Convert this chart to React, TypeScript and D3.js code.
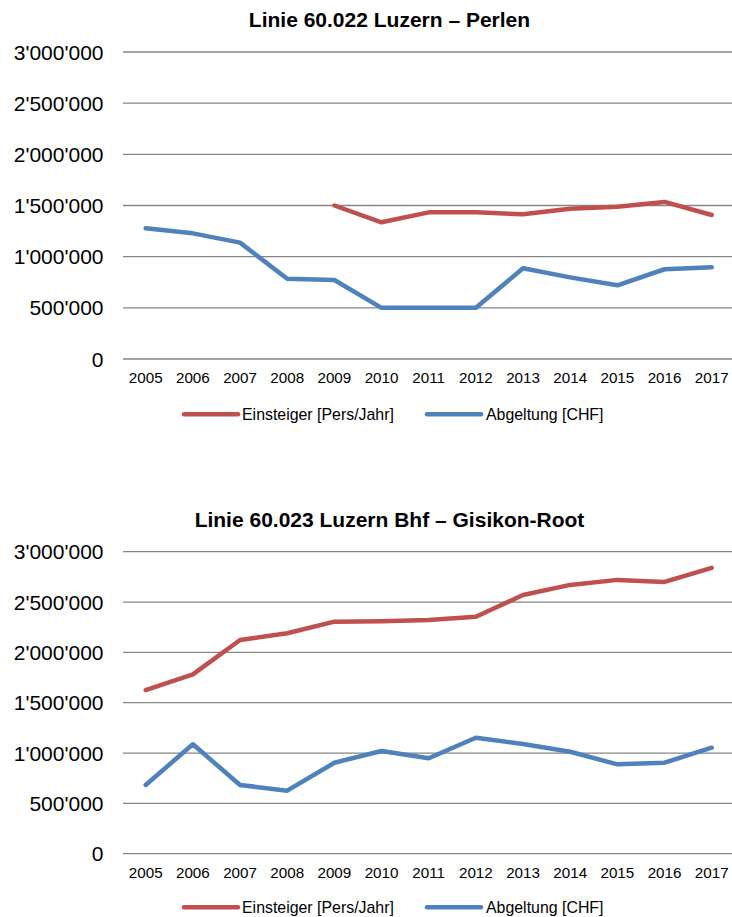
import React from "react";
import * as d3 from "d3";

const years = [2005, 2006, 2007, 2008, 2009, 2010, 2011, 2012, 2013, 2014, 2015, 2016, 2017];
const yTicks = [0, 500000, 1000000, 1500000, 2000000, 2500000, 3000000];

const titleTop = "Linie 60.022 Luzern – Perlen";
const einsteigerTop: (number | null)[] = [null, null, null, null, 1500000, 1336000, 1433000, 1433000, 1414000, 1469000, 1488000, 1535000, 1407000];
const abgeltungTop: (number | null)[] = [1277000, 1228000, 1137000, 785000, 772000, 500000, 500000, 500000, 886000, 798000, 720000, 877000, 896000];

const titleBottom = "Linie 60.023 Luzern Bhf – Gisikon-Root";
const einsteigerBottom: (number | null)[] = [1626000, 1782000, 2123000, 2190000, 2305000, 2310000, 2322000, 2354000, 2570000, 2670000, 2720000, 2700000, 2840000];
const abgeltungBottom: (number | null)[] = [683000, 1087000, 683000, 626000, 904000, 1020000, 948000, 1152000, 1090000, 1013000, 888000, 904000, 1053000];

const seriesNames = ["Einsteiger [Pers/Jahr]", "Abgeltung [CHF]"];
const colors = ["#C0504D", "#4F81BD"];

const FONT = "'Liberation Sans', Arial, Helvetica, sans-serif";

const fmt = (v: number) => {
  const s = d3.format(",")(v);
  return s.replace(/,/g, "'");
};

type ChartProps = {
  title: string;
  titleY: number;
  yTop: number;
  yBottom: number;
  yearY: number;
  legendY: number;
  series: (number | null)[][];
};

function Chart({ title, titleY, yTop, yBottom, yearY, legendY, series }: ChartProps) {
  const x = d3.scalePoint<number>().domain(years).range([145.7, 711.7]);
  const y = d3.scaleLinear().domain([0, 3000000]).range([yBottom, yTop]);
  const gridX0 = 123;
  const gridX1 = 735;
  const line = d3
    .line<number | null>()
    .defined((d) => d !== null)
    .x((_, i) => x(years[i]) as number)
    .y((d) => y(d as number));

  const legendItems = [
    { x0: 184, x1: 238, tx: 242 },
    { x0: 427, x1: 481, tx: 486 },
  ];

  return (
    <g>
      <text x={389.5} y={titleY} textAnchor="middle" fontFamily={FONT} fontWeight="bold" fontSize={21} fill="#000">
        {title}
      </text>
      {yTicks.map((t) => (
        <g key={t}>
          <line x1={gridX0} x2={gridX1} y1={y(t)} y2={y(t)} stroke="#868686" strokeWidth={1.3} />
          <text x={103.5} y={y(t)} dy="0.36em" textAnchor="end" fontFamily={FONT} fontSize={21} fill="#000">
            {fmt(t)}
          </text>
        </g>
      ))}
      {years.map((yr) => (
        <text key={yr} x={x(yr)} y={yearY} textAnchor="middle" fontFamily={FONT} fontSize={15.2} fill="#000">
          {yr}
        </text>
      ))}
      {series.map((s, i) => (
        <path key={i} d={line(s) || ""} fill="none" stroke={colors[i]} strokeWidth={4.5} strokeLinejoin="round" strokeLinecap="round" />
      ))}
      {seriesNames.map((n, i) => (
        <g key={n}>
          <line x1={legendItems[i].x0} x2={legendItems[i].x1} y1={legendY} y2={legendY} stroke={colors[i]} strokeWidth={4.5} strokeLinecap="round" />
          <text x={legendItems[i].tx} y={legendY} dy="0.36em" fontFamily={FONT} fontSize={15.9} fill="#000">
            {n}
          </text>
        </g>
      ))}
    </g>
  );
}

export default function App() {
  return (
    <svg width={732} height={917} style={{ position: "absolute", left: 0, top: 0, background: "#fff" }}>
      <rect width={732} height={917} fill="#fff" />
      <Chart
        title={titleTop}
        titleY={27.3}
        yTop={52}
        yBottom={359}
        yearY={383.3}
        legendY={414.3}
        series={[einsteigerTop, abgeltungTop]}
      />
      <Chart
        title={titleBottom}
        titleY={527.3}
        yTop={551.7}
        yBottom={853.7}
        yearY={877.7}
        legendY={907.3}
        series={[einsteigerBottom, abgeltungBottom]}
      />
    </svg>
  );
}
